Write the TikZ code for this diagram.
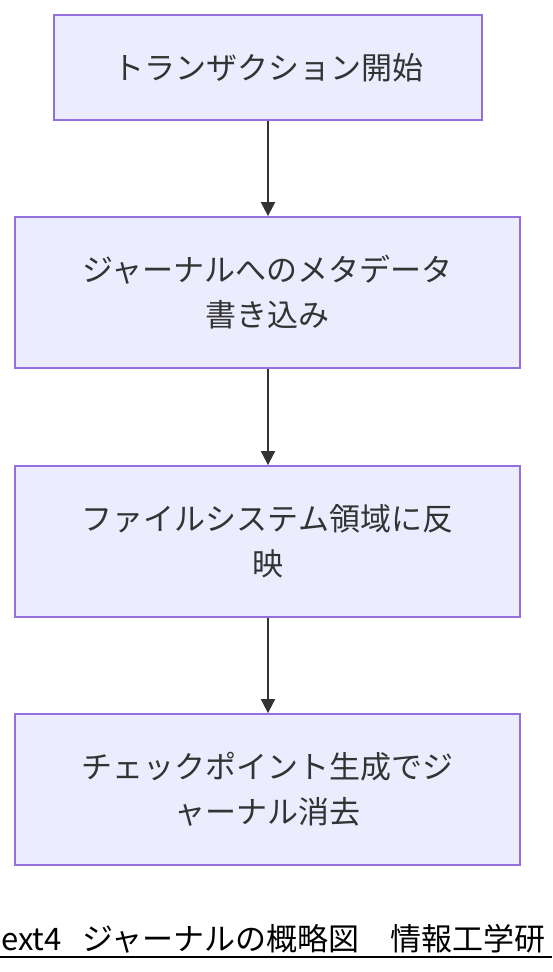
\documentclass[tikz,border=0pt]{standalone}
\usepackage{fontspec}
\newfontfamily\jp{Noto Sans CJK JP}
\usetikzlibrary{arrows.meta}
\definecolor{boxfill}{HTML}{ECECFF}
\definecolor{boxline}{HTML}{9370DB}
\definecolor{ink}{HTML}{333333}
\begin{document}
\begin{tikzpicture}[x=1pt,y=1pt,
  stepbox/.style={draw=boxline, fill=boxfill, line width=1.8pt, text=ink,
    minimum width=505pt, minimum height=151pt, inner sep=0pt, align=center,
    font=\jp\fontsize{31}{45}\selectfont},
  flow/.style={draw=ink, line width=1.8pt, -{Triangle[width=14pt,length=14pt]}}]
\useasboundingbox (0,0) rectangle (552,-972);
\clip (0,0) rectangle (552,-972);
\fill[white] (0,0) rectangle (552,-972);
\node[stepbox, minimum width=428pt, minimum height=105pt] (b1) at (268,-67.5) {トランザクション開始};
\node[stepbox] (b2) at (267.5,-292.5) {ジャーナルへのメタデータ\\書き込み};
\node[stepbox] (b3) at (267.5,-541.5) {ファイルシステム領域に反\\映};
\node[stepbox] (b4) at (267.5,-789.5) {チェックポイント生成でジ\\ャーナル消去};
\draw[flow] (b1.south -| 268,0) -- (b2.north -| 268,0);
\draw[flow] (b2.south -| 268,0) -- (b3.north -| 268,0);
\draw[flow] (b3.south -| 268,0) -- (b4.north -| 268,0);
\node[anchor=base west, inner sep=0pt, font=\jp\fontsize{31}{33}\selectfont] (cap) at (1,-950)
  {\makebox[81pt][l]{ext4}ジャーナルの概略図　情報工学研};
\coordinate (ul) at (0,-957);
\coordinate (ur) at (552,-957);
\draw[line width=2pt, black] (ul) -- (ur);
\end{tikzpicture}
\end{document}
